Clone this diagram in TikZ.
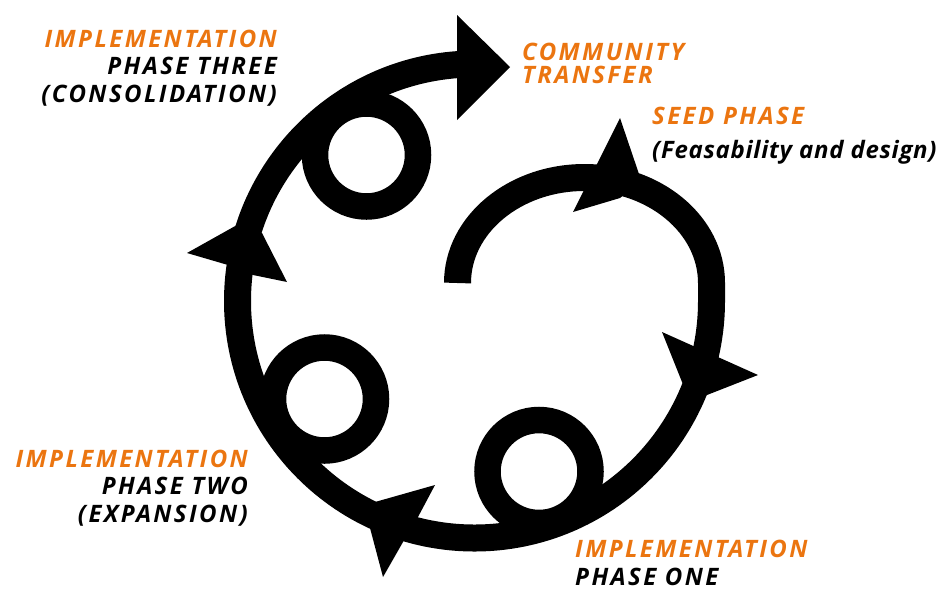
\documentclass[tikz,border=0pt]{standalone}
\usepackage{fontspec}
\setmainfont{Open Sans}
\newfontfamily\capsfont{Open Sans}[LetterSpace=10.0]
\newfontfamily\notefont{Open Sans}[LetterSpace=3.0]
\usepackage{tikz}

\definecolor{phaseorange}{RGB}{235,117,16}

\begin{document}
\begin{tikzpicture}[x=1pt, y=-1pt,
  phase label/.style={inner sep=0pt, font=\capsfont\bfseries\itshape\fontsize{24}{27.5}\selectfont},
  title/.style={text=phaseorange},
  band/.style={line width=27, line join=round}]
\useasboundingbox (0,0) rectangle (942,590);

% the spiral, from the seed stub round to the transfer arrow
\draw [band] (457.5,283)
  arc [start angle=180, end angle=360, x radius=127, y radius=105.5]
  -- (711.5,301)
  arc [start angle=0, end angle=266, radius=237];

% the three implementation loops
\foreach \cx/\cy [count=\i] in {366.5/155, 324.5/399, 539/471.5}
  \draw [line width=26.5] (\cx,\cy) circle [radius=51.5];

% arrow heads along the band
\fill (457,15) -- (510,67) -- (457,120) -- cycle;
\fill (620,118) -- (640,177) -- (630,190) -- (620,198) -- (573,212) -- cycle;
\fill (758,375) -- (707,395) -- (692,400) -- (682,382) -- (662,332) -- cycle;
\fill (383,577) -- (403,542) -- (418,517) -- (435,485) -- (375,502) -- (370,528) -- cycle;
\fill (187,253) -- (237,225) -- (262,233) -- (287,282) -- (253,275) -- (228,265) -- cycle;

% labels (anchored on the baseline of their last line)
\node [phase label, anchor=base east, align=right] (phase-three) at (277,102)
  {\textcolor{phaseorange}{IMPLEMENTATION}\\PHASE THREE\\(CONSOLIDATION)};
\node [phase label, title, anchor=base west, align=left,
  font=\capsfont\bfseries\itshape\fontsize{24}{23.5}\selectfont] (transfer) at (522,83.5)
  {COMMUNITY\\TRANSFER};
\node [phase label, anchor=base west, align=left,
  font=\capsfont\bfseries\itshape\fontsize{24}{34}\selectfont] (seed) at (652,158)
  {\textcolor{phaseorange}{SEED PHASE}\\{\notefont(Feasability and design)}};
\node [phase label, anchor=base east, align=right] (phase-two) at (248,522)
  {\textcolor{phaseorange}{IMPLEMENTATION}\\PHASE TWO\\(EXPANSION)};
\node [phase label, anchor=base west, align=left,
  font=\capsfont\bfseries\itshape\fontsize{24}{28}\selectfont] (phase-one) at (575,585)
  {\textcolor{phaseorange}{IMPLEMENTATION}\\PHASE ONE};
\end{tikzpicture}
\end{document}
